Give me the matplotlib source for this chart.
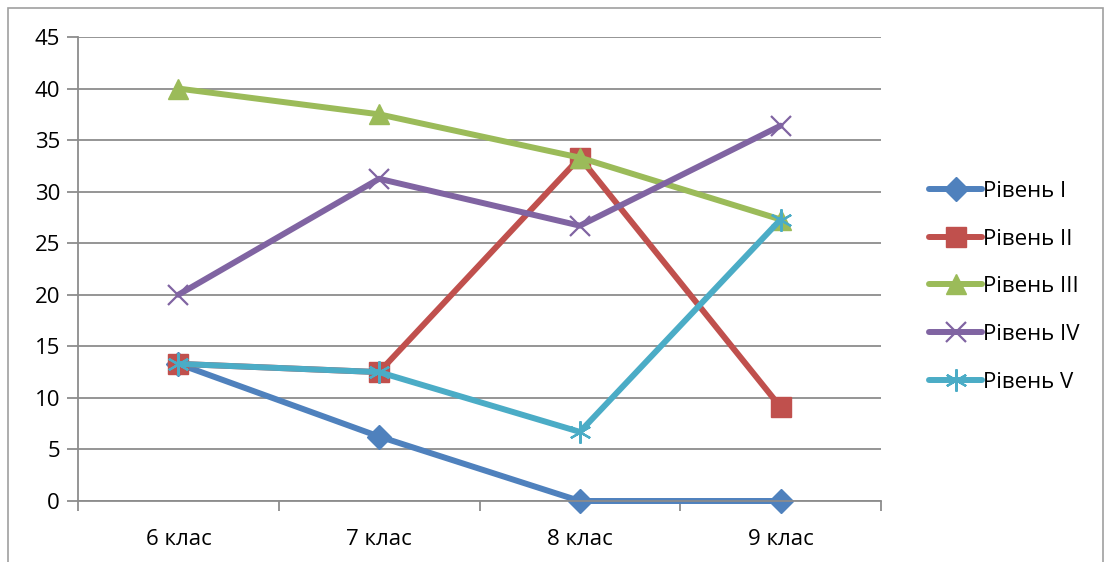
import matplotlib.pyplot as plt
import matplotlib.patches as mpatches
import numpy as np

plt.rcParams['font.family'] = ['Open Sans', 'DejaVu Sans']

# data
classes = ['6 клас', '7 клас', '8 клас', '9 клас']
level_1 = [13.3, 6.25, 0, 0]
level_2 = [13.3, 12.5, 33.3, 9.1]
level_3 = [40, 37.5, 33.3, 27.3]
level_4 = [20, 31.25, 26.7, 36.4]
level_5 = [13.3, 12.5, 6.7, 27.3]
series_names = ['Рівень I', 'Рівень II', 'Рівень III', 'Рівень IV', 'Рівень V']

colors = ['#4F81BD', '#C0504D', '#9BBB59', '#8064A2', '#4BACC6']
markers = ['D', 's', '^', 'x', (6, 2, 0)]
msizes = [12, 14, 15, 15, 16]

W, H = 1107, 562
fig = plt.figure(figsize=(W / 100, H / 100), dpi=100)
ax = fig.add_axes([78 / W, 1 - 501 / H, (881 - 78) / W, (501 - 37) / H])

x = np.arange(len(classes))
all_series = [level_1, level_2, level_3, level_4, level_5]
handles = []
for vals, name, c, m, ms in zip(all_series, series_names, colors, markers, msizes):
    mew = 1.6 if m in ('x', (6, 2, 0)) else 1
    h, = ax.plot(x, vals, color=c, lw=4.3, marker=m, markersize=ms,
                 markeredgecolor=c, markerfacecolor=c, markeredgewidth=mew,
                 label=name, solid_capstyle='round', clip_on=False)
    handles.append(h)

ax.set_xlim(-0.5, len(classes) - 0.5)
ax.set_ylim(0, 45)
ax.set_yticks(np.arange(0, 46, 5))
ax.yaxis.grid(True, color='#8C8C8C', lw=1.3)
ax.set_axisbelow(True)

ax.set_xticks(np.arange(-0.5, len(classes), 1.0))
ax.set_xticklabels([])
ax.set_xticks(x, minor=True)
ax.set_xticklabels(classes, minor=True)
ax.tick_params(axis='x', which='major', length=7, color='#8C8C8C', width=1.3)
ax.tick_params(axis='x', which='minor', length=0, pad=20, labelsize=16)
ax.tick_params(axis='y', length=8, color='#8C8C8C', width=1.3, labelsize=16, pad=5)

for s in ['top', 'right']:
    ax.spines[s].set_visible(False)
for s in ['left', 'bottom']:
    ax.spines[s].set_color('#8C8C8C')
    ax.spines[s].set_linewidth(1.3)

fig.legend(handles=handles, loc='upper left', bbox_to_anchor=(920 / W, 1 - 172 / H),
           frameon=False, fontsize=16, handlelength=2.4, handletextpad=0.05,
           labelspacing=1.2, borderaxespad=0)

# outer chart frame
fig.patches.append(mpatches.Rectangle((8 / W, -0.01), (1103 - 8) / W, 1 - 8 / H + 0.01,
                                      transform=fig.transFigure, fill=False,
                                      edgecolor='#A0A0A0', lw=1.2))

fig.savefig('out.png', dpi=100)
